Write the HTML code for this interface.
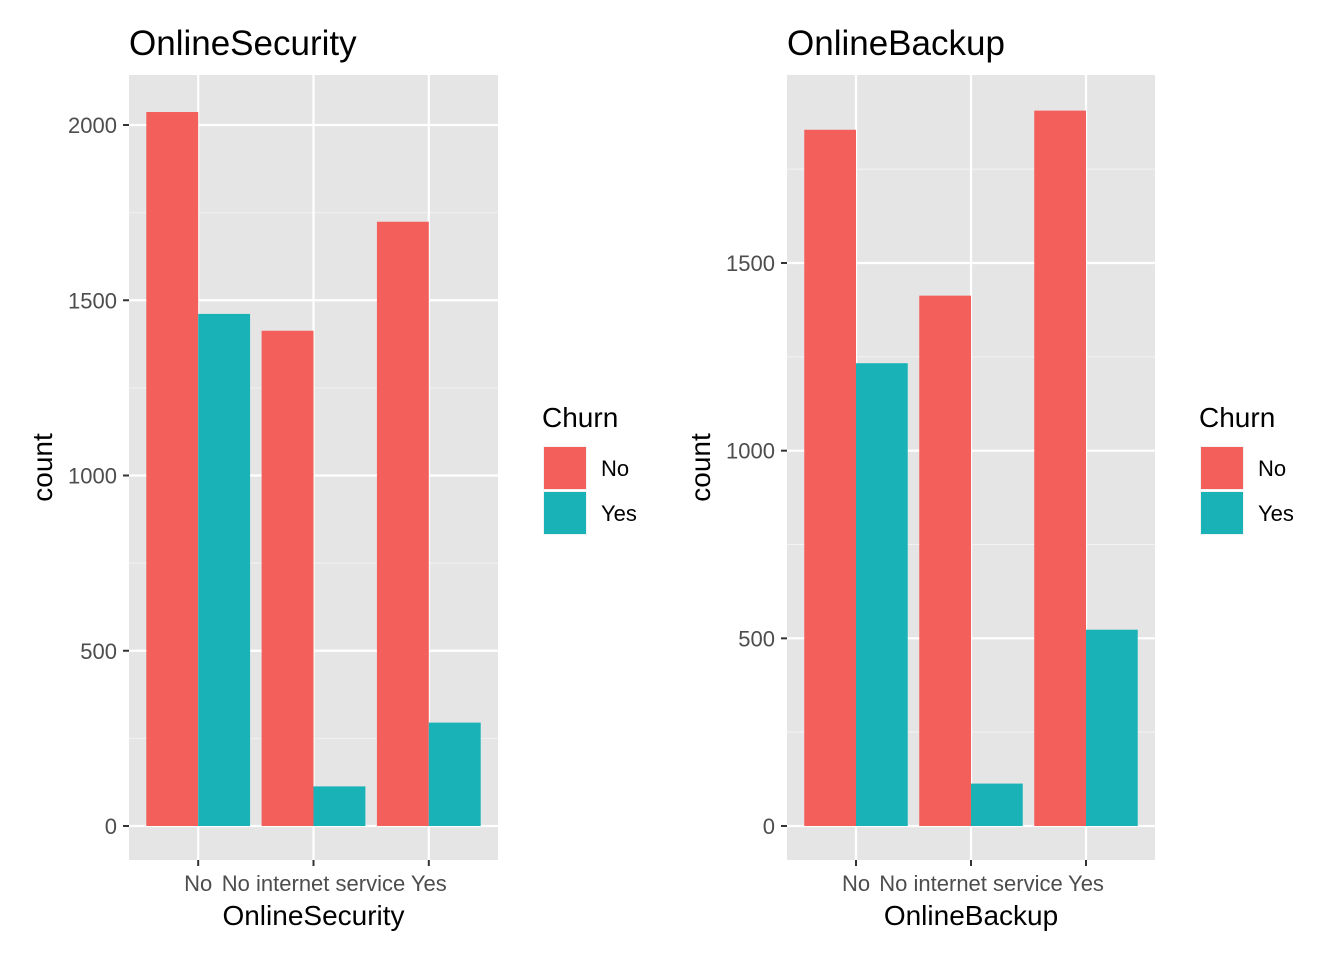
<!DOCTYPE html>
<html><head><meta charset="utf-8"><style>
html,body{margin:0;padding:0;background:#fff;}
svg{display:block;font-family:"Liberation Sans",Arial,sans-serif;}
</style></head><body>
<svg id="chart" width="1344" height="960"></svg>
<script>
const categories = ["No","No internet service","Yes"];
const securityNo = [2037, 1413, 1724];
const securityYes = [1461, 113, 295];
const backupNo = [1855, 1413, 1906];
const backupYes = [1233, 113, 523];
const securityTicks = [0, 500, 1000, 1500, 2000];
const backupTicks = [0, 500, 1000, 1500];
const panelTitles = ["OnlineSecurity","OnlineBackup"];

const NS = "http://www.w3.org/2000/svg";
const svg = document.getElementById("chart");
function mk(tag, attrs, parent) {
  const e = document.createElementNS(NS, tag);
  for (const k in attrs) e.setAttribute(k, attrs[k]);
  (parent || svg).appendChild(e);
  return e;
}
const RED = "#f35f5b", TEAL = "#19b3b7";

function panel(x0, x1, y0, y1, topTickY, ticks, noVals, yesVals, title) {
  const g = mk("g", {});
  
  
  const zeroY = 826;
  const topTick = ticks[ticks.length - 1];
  const k = (zeroY - topTickY) / topTick;
  const ys = v => zeroY - v * k;
  const bg = mk("rect", {x:x0, y:y0, width:x1-x0, height:y1-y0, fill:"#e5e5e5"}, g);
  
  
  const step = ticks[1] - ticks[0];
  for (let v = -step/2; v <= topTick + 2*step; v += step) {
    const y = ys(v);
    if (y < y0 || y > y1) continue;
    const l = mk("line", {x1:x0, x2:x1, y1:y, y2:y, stroke:"#f2f2f2", "stroke-width":1.1}, g);
    
    
  }
  const bandW = (x1 - x0) / (categories.length + 0.2);
  const xc = i => x0 + bandW * (0.6 + i);
  ticks.forEach(v => {
    const y = ys(v);
    const l = mk("line", {x1:x0, x2:x1, y1:y, y2:y, stroke:"#fff", "stroke-width":2.2}, g);
    
    
    const tk = mk("line", {x1:x0-6, x2:x0, y1:y, y2:y, stroke:"#333", "stroke-width":2}, g);
    
    
    const t = mk("text", {x:x0-12, y:y+8, "text-anchor":"end", "font-size":22, fill:"#4d4d4d"}, g);
    t.textContent = v;
    
    
  });
  categories.forEach((c, i) => {
    const x = xc(i);
    const l = mk("line", {x1:x, x2:x, y1:y0, y2:y1, stroke:"#fff", "stroke-width":2.2}, g);
    
    
  });
  const bw = bandW * 0.45;
  categories.forEach((c, i) => {
    const x = xc(i);
    const b1 = mk("rect", {x:x-bw, y:ys(noVals[i]), width:bw, height:zeroY-ys(noVals[i]), fill:RED}, g);
    
    
    const b2 = mk("rect", {x:x, y:ys(yesVals[i]), width:bw, height:zeroY-ys(yesVals[i]), fill:TEAL}, g);
    
    
    const tk = mk("line", {x1:x, x2:x, y1:y1, y2:y1+6, stroke:"#333", "stroke-width":2}, g);
    
    
    const t = mk("text", {x:x, y:y1+31, "text-anchor":"middle", "font-size":22, fill:"#4d4d4d"}, g);
    t.textContent = c;
    
    
  });
  const xt = mk("text", {x:(x0+x1)/2, y:y1+65, "text-anchor":"middle", "font-size":28, fill:"#000"}, g);
  xt.textContent = title;
  
  
  const yt = mk("text", {x:0, y:0, "text-anchor":"middle", "font-size":28, fill:"#000", transform:`translate(${x0-77},${(y0+y1)/2}) rotate(-90)`}, g);
  yt.textContent = "count";
  
  
  const tt = mk("text", {x:x0, y:55, "font-size":35, fill:"#000"}, g);
  tt.textContent = title;
  
  
  const lx = x1 + 44;
  const lt = mk("text", {x:lx, y:427, "font-size":28, fill:"#000"}, g);
  lt.textContent = "Churn";
  
  
  [["No",RED,446],["Yes",TEAL,491]].forEach(([lab,col,y]) => {
    const bgk = mk("rect", {x:lx+1, y:y, width:44, height:44, fill:"#f2f2f2"}, g);
    
    
    const kk = mk("rect", {x:lx+2, y:y+1, width:42, height:42, fill:col}, g);
    
    
    const t = mk("text", {x:lx+59, y:y+30, "font-size":22, fill:"#000"}, g);
    t.textContent = lab;
    
    
  });
}
panel(129, 498, 75, 860, 125, securityTicks, securityNo, securityYes, panelTitles[0]);
panel(787, 1155, 75, 860, 263, backupTicks, backupNo, backupYes, panelTitles[1]);
</script>
</body></html>
